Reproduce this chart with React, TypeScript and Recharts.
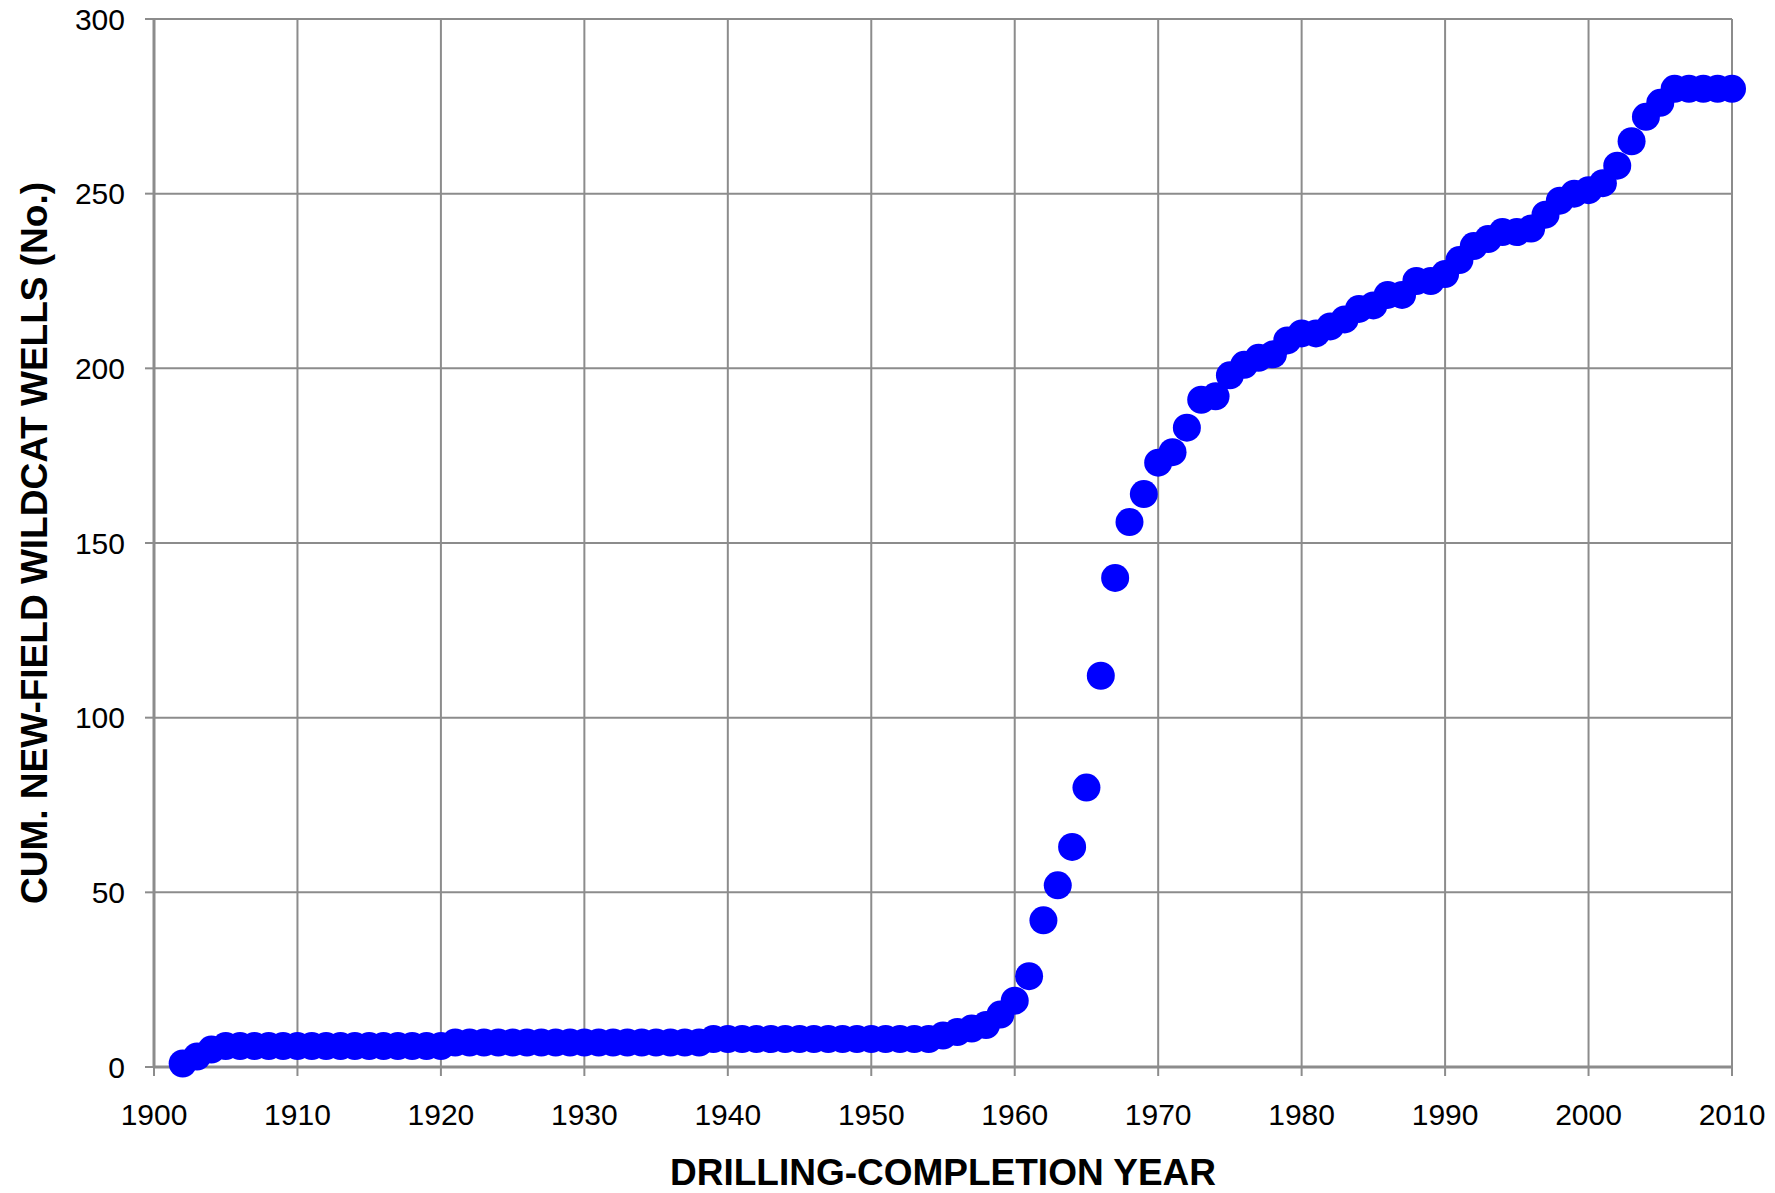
import { ScatterChart, Scatter, XAxis, YAxis, CartesianGrid } from 'recharts';

const FONT = '"Liberation Sans", Arial, sans-serif';
const GRID = '#8c8c8c';
const DOT = '#0000ff';

// drilling-completion years
const years = [
  1902, 1903, 1904, 1905, 1906, 1907, 1908, 1909, 1910, 1911,
  1912, 1913, 1914, 1915, 1916, 1917, 1918, 1919, 1920, 1921,
  1922, 1923, 1924, 1925, 1926, 1927, 1928, 1929, 1930, 1931,
  1932, 1933, 1934, 1935, 1936, 1937, 1938, 1939, 1940, 1941,
  1942, 1943, 1944, 1945, 1946, 1947, 1948, 1949, 1950, 1951,
  1952, 1953, 1954, 1955, 1956, 1957, 1958, 1959, 1960, 1961,
  1962, 1963, 1964, 1965, 1966, 1967, 1968, 1969, 1970, 1971,
  1972, 1973, 1974, 1975, 1976, 1977, 1978, 1979, 1980, 1981,
  1982, 1983, 1984, 1985, 1986, 1987, 1988, 1989, 1990, 1991,
  1992, 1993, 1994, 1995, 1996, 1997, 1998, 1999, 2000, 2001,
  2002, 2003, 2004, 2005, 2006, 2007, 2008, 2009, 2010,
];

// cumulative new-field wildcat wells
const cumWells = [
  1, 3, 5, 6, 6, 6, 6, 6, 6, 6,
  6, 6, 6, 6, 6, 6, 6, 6, 6, 7,
  7, 7, 7, 7, 7, 7, 7, 7, 7, 7,
  7, 7, 7, 7, 7, 7, 7, 8, 8, 8,
  8, 8, 8, 8, 8, 8, 8, 8, 8, 8,
  8, 8, 8, 9, 10, 11, 12, 15, 19, 26,
  42, 52, 63, 80, 112, 140, 156, 164, 173, 176,
  183, 191, 192, 198, 201, 203, 204, 208, 210, 210,
  212, 214, 217, 218, 221, 221, 225, 225, 227, 231,
  235, 237, 239, 239, 240, 244, 248, 250, 251, 253,
  258, 265, 272, 276, 280, 280, 280, 280, 280,
];

const xTicks = [1900, 1910, 1920, 1930, 1940, 1950, 1960, 1970, 1980, 1990, 2000, 2010];
const yTicks = [0, 50, 100, 150, 200, 250, 300];

const data = years.map((year, i) => ({ year, wells: cumWells[i] }));

const Dot = (props: any) => {
  const { cx, cy } = props;
  if (cx == null || cy == null) return null;
  return <circle cx={cx} cy={cy} r={14} fill={DOT} />;
};

const App = () => {
  return (
    <div style={{ position: 'absolute', left: 0, top: 0, width: 1775, height: 1193, background: '#fff' }}>
      <ScatterChart
        width={1775}
        height={1193}
        margin={{ top: 19, right: 43, left: 10, bottom: 66 }}
      >
        <CartesianGrid stroke={GRID} strokeWidth={2} />
        <XAxis
          type="number"
          dataKey="year"
          domain={[1900, 2010]}
          ticks={xTicks}
          interval={0}
          height={60}
          tickSize={9}
          tickMargin={28}
          stroke={GRID}
          axisLine={{ stroke: GRID, strokeWidth: 3 }}
          tickLine={{ stroke: GRID, strokeWidth: 2 }}
          tick={{ fill: '#000', fontSize: 30, fontFamily: FONT }}
          label={{
            value: 'DRILLING-COMPLETION YEAR',
            position: 'bottom',
            offset: 32,
            style: { fill: '#000', fontSize: 37, fontWeight: 'bold', fontFamily: FONT },
          }}
        />
        <YAxis
          type="number"
          dataKey="wells"
          domain={[0, 300]}
          ticks={yTicks}
          interval={0}
          width={144}
          tickSize={9}
          tickMargin={20}
          stroke={GRID}
          axisLine={{ stroke: GRID, strokeWidth: 3 }}
          tickLine={{ stroke: GRID, strokeWidth: 2 }}
          tick={{ fill: '#000', fontSize: 30, fontFamily: FONT }}
          label={{
            value: 'CUM. NEW-FIELD WILDCAT WELLS (No.)',
            angle: -90,
            position: 'insideLeft',
            offset: 24,
            style: { fill: '#000', fontSize: 37, fontWeight: 'bold', fontFamily: FONT, textAnchor: 'middle' },
          }}
        />
        <Scatter data={data} fill={DOT} shape={<Dot />} isAnimationActive={false} />
      </ScatterChart>
    </div>
  );
};

export default App;
